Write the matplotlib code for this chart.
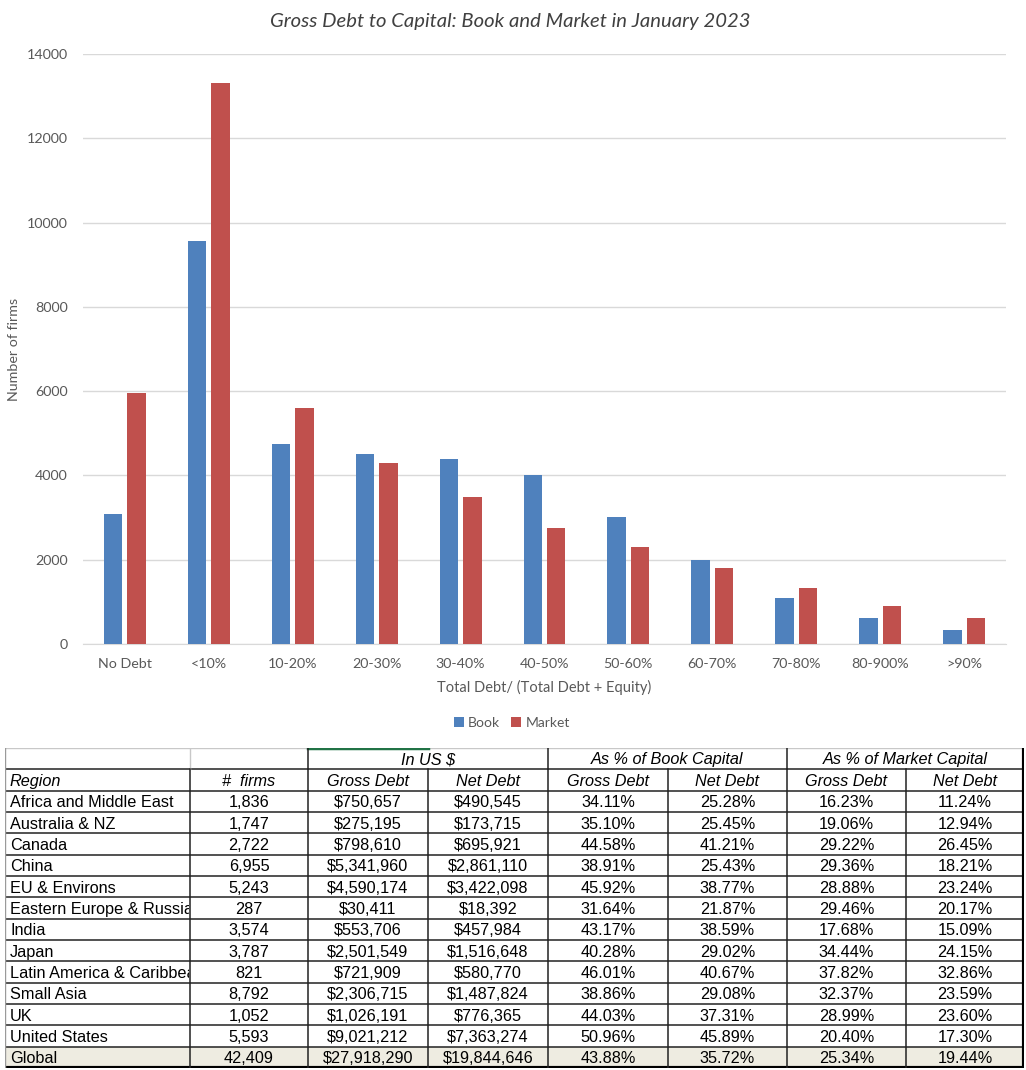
import numpy as np
import matplotlib.pyplot as plt
from matplotlib.patches import Rectangle

# bar chart data
buckets = ['No Debt', '<10%', '10-20%', '20-30%', '30-40%', '40-50%',
           '50-60%', '60-70%', '70-80%', '80-900%', '>90%']
book = [3090, 9555, 4735, 4520, 4397, 4021, 3025, 2001, 1099, 620, 338]
market = [5950, 13315, 5610, 4285, 3477, 2762, 2311, 1813, 1334, 911, 620]

# table data
regions = ['Africa and Middle East', 'Australia & NZ', 'Canada', 'China',
           'EU & Environs', 'Eastern Europe & Russia', 'India', 'Japan',
           'Latin America & Caribbean', 'Small Asia', 'UK', 'United States',
           'Global']
n_firms = [1836, 1747, 2722, 6955, 5243, 287, 3574, 3787, 821, 8792, 1052,
           5593, 42409]
gross_debt = [750657, 275195, 798610, 5341960, 4590174, 30411, 553706,
              2501549, 721909, 2306715, 1026191, 9021212, 27918290]
net_debt = [490545, 173715, 695921, 2861110, 3422098, 18392, 457984,
            1516648, 580770, 1487824, 776365, 7363274, 19844646]
book_gross = [34.11, 35.10, 44.58, 38.91, 45.92, 31.64, 43.17, 40.28, 46.01,
              38.86, 44.03, 50.96, 43.88]
book_net = [25.28, 25.45, 41.21, 25.43, 38.77, 21.87, 38.59, 29.02, 40.67,
            29.08, 37.31, 45.89, 35.72]
mkt_gross = [16.23, 19.06, 29.22, 29.36, 28.88, 29.46, 17.68, 34.44, 37.82,
             32.37, 28.99, 20.40, 25.34]
mkt_net = [11.24, 12.94, 26.45, 18.21, 23.24, 20.17, 15.09, 24.15, 32.86,
           23.59, 23.60, 17.30, 19.44]

col_blue = '#4F81BD'
col_red = '#C0504D'
grey_txt = '#595959'

W, H = 1026, 1070
fig = plt.figure(figsize=(W / 100, H / 100), dpi=100)

# ---------------- bar chart ----------------
ax = fig.add_axes([83 / W, 1 - 644 / H, 923 / W, 590 / H])
x = np.arange(len(buckets))
ax.bar(x - 0.14, book, width=0.22, color=col_blue, label='Book', zorder=3)
ax.bar(x + 0.14, market, width=0.22, color=col_red, label='Market', zorder=3)
ax.set_xlim(-0.5, len(buckets) - 0.5)
ax.set_ylim(0, 14000)
ax.set_yticks(range(0, 14001, 2000))
ax.set_xticks(x)
ax.set_xticklabels(buckets)
ax.grid(axis='y', color='#D9D9D9', lw=1, zorder=0)
for s in ['top', 'right', 'left']:
    ax.spines[s].set_visible(False)
ax.spines['bottom'].set_color('#D9D9D9')
ax.tick_params(length=0, labelsize=10.3, labelcolor=grey_txt, pad=10)
ax.tick_params(axis='y', pad=11)
for lab in ax.get_xticklabels() + ax.get_yticklabels():
    lab.set_family('Lato')
ax.set_ylabel('Number of firms', family='Lato', fontsize=10.3,
              color=grey_txt)
ax.yaxis.set_label_coords(-63 / 923, 0.5)
ax.set_xlabel('Total Debt/ (Total Debt + Equity)', family='Lato',
              fontsize=10.5, color=grey_txt, labelpad=7)
fig.text(510 / W, 1 - 22 / H,
         'Gross Debt to Capital: Book and Market in January 2023',
         family='Lato', style='italic', fontsize=14.6, color='#404040',
         ha='center', va='center')
fig.legend(loc='center', bbox_to_anchor=(512 / W, 1 - 723 / H), ncol=2,
           frameon=False, handlelength=0.7, handleheight=0.7,
           handletextpad=0.3, columnspacing=0.8,
           prop={'family': 'Lato', 'size': 10}, labelcolor=grey_txt)

# ---------------- table ----------------
widths = [185, 118, 120, 120, 120, 119, 119, 118]
edges = np.concatenate([[0], np.cumsum(widths)])
total = edges[-1]
nrows = 2 + len(regions)
tax = fig.add_axes([5 / W, 1 - 1068 / H, total / W, 320 / H])
tax.set_xlim(0, total)
tax.set_ylim(nrows, 0)
tax.axis('off')

tf = dict(family='Liberation Sans', fontsize=11.7, color='black')

# global row shading
tax.add_patch(Rectangle((0, nrows - 1), total, 1, color='#EEECE1', zorder=0))

# header row 1
groups = [('In US $', 2, 4), ('As % of Book Capital', 4, 6),
          ('As % of Market Capital', 6, 8)]
for label, a, b in groups:
    tax.text((edges[a] + edges[b]) / 2, 0.55, label, ha='center',
             va='center', style='italic', **tf)
# header row 2
heads = ['Region', '#  firms', 'Gross Debt', 'Net Debt', 'Gross Debt',
         'Net Debt', 'Gross Debt', 'Net Debt']
for j, h in enumerate(heads):
    if j == 0:
        tax.text(edges[0] + 5, 1.55, h, ha='left', va='center',
                 style='italic', **tf)
    else:
        tax.text((edges[j] + edges[j + 1]) / 2, 1.55, h, ha='center',
                 va='center', style='italic', **tf)

# data rows
for i in range(len(regions)):
    r = i + 2
    cells = ['{:,}'.format(n_firms[i]), '${:,}'.format(gross_debt[i]),
             '${:,}'.format(net_debt[i]), '{:.2f}%'.format(book_gross[i]),
             '{:.2f}%'.format(book_net[i]), '{:.2f}%'.format(mkt_gross[i]),
             '{:.2f}%'.format(mkt_net[i])]
    t = tax.text(edges[0] + 5, r + 0.57, regions[i], ha='left', va='center',
                 clip_on=True, **tf)
    clip = Rectangle((0, r), widths[0] - 1, 1, transform=tax.transData)
    t.set_clip_path(clip)
    for j, c in enumerate(cells, start=1):
        tax.text((edges[j] + edges[j + 1]) / 2, r + 0.57, c, ha='center',
                 va='center', **tf)

# grid lines
tax.plot([0, total], [0, 0], color='#C8C8C8', lw=1)
tax.plot([edges[2], edges[3]], [0, 0], color='#217346', lw=2.5)
for r in range(1, nrows):
    tax.plot([0, total], [r, r], color='#222222', lw=1.1)
tax.plot([0, total], [nrows, nrows], color='black', lw=3)
tax.plot([0, 0], [0, nrows], color='#9A9A9A', lw=1)
tax.plot([edges[1], edges[1]], [0, 1], color='#C8C8C8', lw=1)
for j in range(1, 8):
    tax.plot([edges[j], edges[j]], [1, nrows], color='#222222', lw=1.1)
for j in [2, 4, 6]:
    tax.plot([edges[j], edges[j]], [0, 1], color='#222222', lw=1.1)
tax.plot([total, total], [0, nrows], color='black', lw=3)

fig.savefig('out.png', dpi=100)
